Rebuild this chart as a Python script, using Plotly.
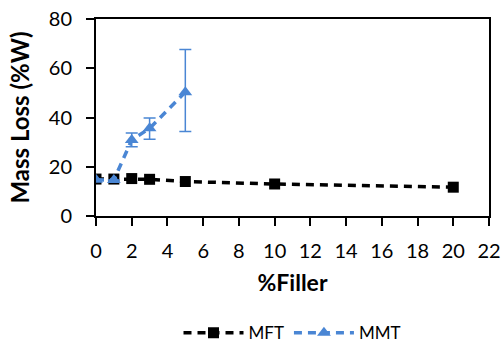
import plotly.graph_objects as go

filler_mft = [0, 1, 2, 3, 5, 10, 20]
mass_loss_mft = [15.0, 15.0, 15.2, 14.9, 14.0, 13.0, 11.7]

filler_mmt = [0, 1, 2, 3, 5]
mass_loss_mmt = [14.7, 14.6, 30.9, 35.6, 50.3]
err_plus_mmt = [0.0, 0.0, 2.8, 4.2, 17.3]
err_minus_mmt = [0.0, 0.0, 2.8, 4.4, 16.0]

x_ticks = list(range(0, 23, 2))
y_ticks = [0, 20, 40, 60, 80]

FONT = "Lato"
BLUE = "#4A86D4"

fig = go.Figure()
fig.add_trace(go.Scatter(
    x=filler_mft, y=mass_loss_mft, name="MFT", mode="lines+markers",
    line=dict(color="black", width=3.5, dash="8px,6px"),
    marker=dict(symbol="square", size=11, color="black"),
))
fig.add_trace(go.Scatter(
    x=filler_mmt, y=mass_loss_mmt, name="MMT", mode="lines+markers",
    line=dict(color=BLUE, width=3.5, dash="8px,6px"),
    marker=dict(symbol="triangle-up", size=12, color=BLUE),
    error_y=dict(type="data", symmetric=False, array=err_plus_mmt,
                 arrayminus=err_minus_mmt, color=BLUE, thickness=1.5, width=6),
))

fig.update_layout(
    width=502, height=347,
    margin=dict(l=96, r=13, t=19, b=131, autoexpand=False),
    paper_bgcolor="white", plot_bgcolor="white",
    font=dict(family=FONT, color="black", size=20),
    showlegend=True,
    legend=dict(orientation="h", x=0.5, xanchor="center",
                yref="container", y=0.04, yanchor="middle",
                font=dict(size=17), itemwidth=60),
    xaxis=dict(range=[0, 22], tickvals=x_ticks, ticks="outside", ticklen=8,
               tickwidth=2, tickcolor="black", showline=True, linecolor="black",
               linewidth=2, mirror=True, showgrid=False, zeroline=False,
               automargin=False, ticklabelstandoff=8, ticklabeloverflow="allow",
               title=dict(text="<b>%Filler</b>", font=dict(size=23), standoff=14)),
    yaxis=dict(range=[0, 80], tickvals=y_ticks, ticks="outside", ticklen=8,
               tickwidth=2, tickcolor="black", showline=True, linecolor="black",
               linewidth=2, mirror=True, showgrid=False, zeroline=False,
               automargin=False, ticklabelstandoff=10, ticklabeloverflow="allow",
               title=dict(text="<b>Mass Loss (%W)</b>", font=dict(size=24), standoff=12)),
)

fig.write_html("out.html", config={"displayModeBar": False},
               post_script="document.body.style.margin='0';")
